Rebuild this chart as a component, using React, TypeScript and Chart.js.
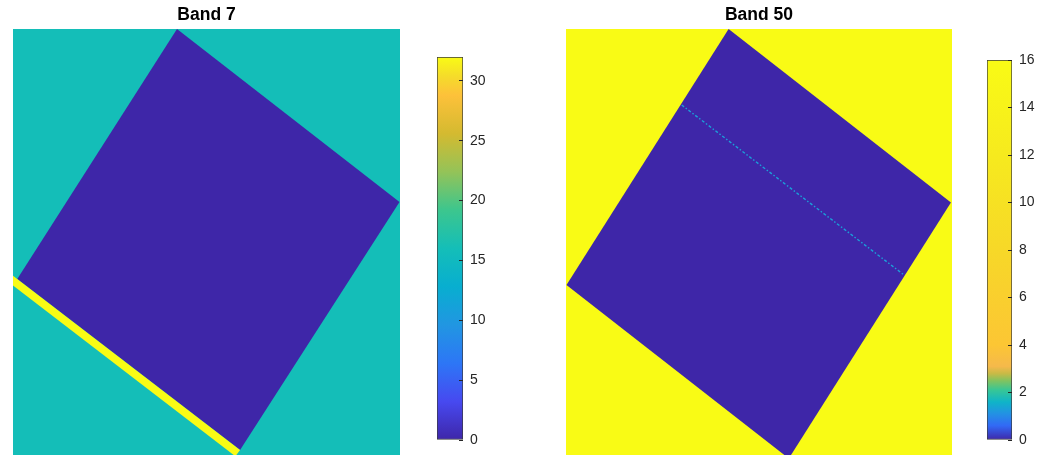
import React, { useEffect, useRef } from "react";
import { Chart, registerables } from "chart.js";

Chart.register(...registerables);

// ---------- data ----------
const TITLES = ["Band 7", "Band 50"];

// image extent (pixel units of the displayed image)
const IMAGE_X_MAX = 400;
const IMAGE_Y_MAX = 440;
const IMAGE_X = [0, 400, 400, 0];
const IMAGE_Y = [0, 0, 440, 440];

// Band 7
const BAND7_CLIM = 32;
const BAND7_BACKGROUND_VALUE = 16;
const BAND7_SQUARE_VALUE = 0;
const BAND7_STRIPE_VALUE = 32;
const BAND7_SQUARE_X = [169.5, 399.5, 234.7, 4.4];
const BAND7_SQUARE_Y = [0, 178.7, 434.9, 258.2];
const BAND7_STRIPE_X = [-3, 234.7, 229.8, -7.9];
const BAND7_STRIPE_Y = [252.5, 434.9, 441.3, 258.9];
const BAND7_TICKS = [0, 5, 10, 15, 20, 25, 30];

// Band 50
const BAND50_CLIM = 16;
const BAND50_BACKGROUND_VALUE = 16;
const BAND50_SQUARE_VALUE = 0;
const BAND50_LINE_VALUE = 1.3;
const BAND50_SQUARE_X = [168.5, 398.9, 230.9, 0.5];
const BAND50_SQUARE_Y = [0, 179.2, 443.6, 264.4];
const BAND50_LINE_X = [119.9, 350.4];
const BAND50_LINE_Y = [78.5, 254.1];
const BAND50_TICKS = [0, 2, 4, 6, 8, 10, 12, 14, 16];

// colormaps: [position, r, g, b]
const PARULA_STOPS = [
  [0.0, 62, 38, 168],
  [0.1, 71, 73, 240],
  [0.2, 45, 118, 246],
  [0.3, 33, 150, 226],
  [0.4, 8, 174, 208],
  [0.5, 20, 190, 184],
  [0.6, 60, 198, 142],
  [0.7, 148, 195, 88],
  [0.8, 212, 186, 48],
  [0.9, 253, 193, 58],
  [0.95, 245, 220, 42],
  [1.0, 249, 251, 21],
];
// band 50 colormap, positions in data units
const BAND50_STOPS = [
  [0, 62, 38, 168],
  [0.6, 50, 105, 245],
  [1.1, 35, 145, 228],
  [1.6, 15, 180, 200],
  [2.1, 55, 198, 150],
  [2.5, 130, 195, 95],
  [2.8, 200, 186, 70],
  [3.1, 245, 185, 75],
  [4, 252, 198, 52],
  [8, 247, 216, 40],
  [12, 246, 234, 30],
  [16, 249, 251, 21],
];

const FONT = '"Liberation Sans", Arial, Helvetica, sans-serif';

// ---------- helpers ----------
function colorAt(stops: number[][], v: number): string {
  const rgb = (c: number[]) => `rgb(${Math.round(c[0])},${Math.round(c[1])},${Math.round(c[2])})`;
  if (v <= stops[0][0]) return rgb(stops[0].slice(1));
  for (let i = 1; i < stops.length; i++) {
    if (v <= stops[i][0]) {
      const a = stops[i - 1];
      const b = stops[i];
      const f = (v - a[0]) / (b[0] - a[0]);
      return rgb([1, 2, 3].map((k) => a[k] + (b[k] - a[k]) * f));
    }
  }
  return rgb(stops[stops.length - 1].slice(1));
}

function scaledStops(stops: number[][], max: number): number[][] {
  return stops.map((s) => [s[0] * max, s[1], s[2], s[3]]);
}

function pts(xs: number[], ys: number[]) {
  return xs.map((x, i) => ({ x, y: ys[i] }));
}

function polygonDataset(xs: number[], ys: number[], color: string) {
  return {
    data: pts(xs, ys),
    fill: "shape",
    backgroundColor: color,
    borderColor: "transparent",
    borderWidth: 0,
    pointRadius: 0,
    tension: 0,
  };
}

function imageChart(canvas: HTMLCanvasElement, title: string, datasets: any[]) {
  return new Chart(canvas, {
    type: "line",
    data: { datasets },
    options: {
      animation: false,
      responsive: false,
      events: [],
      layout: { padding: 0 },
      plugins: {
        legend: { display: false },
        tooltip: { enabled: false },
        title: {
          display: true,
          text: title,
          color: "#000000",
          font: { family: FONT, size: 17.5, weight: "bold" },
          padding: { top: 5, bottom: 3 },
        },
      },
      scales: {
        x: { type: "linear", min: 0, max: IMAGE_X_MAX, display: false },
        y: { type: "linear", min: 0, max: IMAGE_Y_MAX, reverse: true, display: false },
      },
    } as any,
  });
}

function colorbarChart(
  canvas: HTMLCanvasElement,
  stops: number[][],
  max: number,
  ticks: number[],
  top: number,
  axisWidth: number
) {
  return new Chart(canvas, {
    type: "bar",
    data: {
      labels: ["c"],
      datasets: [
        {
          data: [[0, max]],
          barPercentage: 1,
          categoryPercentage: 1,
          borderWidth: 1,
          borderColor: "#3a3a3a",
          borderSkipped: false,
          backgroundColor: (ctx: any) => {
            const chart = ctx.chart;
            const y = chart.scales.y;
            if (!chart.chartArea || !y) return "#888";
            const y0 = y.getPixelForValue(0);
            const y1 = y.getPixelForValue(max);
            const g = chart.ctx.createLinearGradient(0, y0, 0, y1);
            stops.forEach((s) => g.addColorStop(Math.min(1, Math.max(0, s[0] / max)), colorAt(stops, s[0])));
            return g;
          },
        },
      ],
    },
    options: {
      animation: false,
      responsive: false,
      events: [],
      layout: { padding: { top, bottom: 15, left: 0, right: 0 } },
      plugins: { legend: { display: false }, tooltip: { enabled: false }, title: { display: false } },
      scales: {
        x: { display: false },
        y: {
          position: "right",
          min: 0,
          max,
          afterBuildTicks: (scale: any) => {
            scale.ticks = ticks.map((v) => ({ value: v }));
          },
          afterFit: (scale: any) => {
            scale.width = axisWidth;
            scale.paddingTop = 0;
            scale.paddingBottom = 0;
          },
          grid: { drawOnChartArea: false, tickLength: -4, color: "#262626", lineWidth: 1, z: 1 },
          border: { display: false },
          ticks: { padding: 11, color: "#262626", font: { family: FONT, size: 14 } },
        },
      },
    } as any,
  });
}

// ---------- component ----------
export default function App() {
  const c1 = useRef<HTMLCanvasElement>(null);
  const c2 = useRef<HTMLCanvasElement>(null);
  const c3 = useRef<HTMLCanvasElement>(null);
  const c4 = useRef<HTMLCanvasElement>(null);

  useEffect(() => {
    const band7Stops = scaledStops(PARULA_STOPS, BAND7_CLIM);
    const charts: Chart[] = [];

    charts.push(
      imageChart(c1.current!, TITLES[0], [
        polygonDataset(BAND7_STRIPE_X, BAND7_STRIPE_Y, colorAt(band7Stops, BAND7_STRIPE_VALUE)),
        polygonDataset(BAND7_SQUARE_X, BAND7_SQUARE_Y, colorAt(band7Stops, BAND7_SQUARE_VALUE)),
        polygonDataset(IMAGE_X, IMAGE_Y, colorAt(band7Stops, BAND7_BACKGROUND_VALUE)),
      ])
    );
    charts.push(colorbarChart(c2.current!, band7Stops, BAND7_CLIM, BAND7_TICKS, 57, 44));

    charts.push(
      imageChart(c3.current!, TITLES[1], [
        {
          data: pts(BAND50_LINE_X, BAND50_LINE_Y),
          fill: false,
          borderColor: colorAt(BAND50_STOPS, BAND50_LINE_VALUE),
          borderWidth: 1.4,
          borderDash: [3, 2, 1.5, 2],
          pointRadius: 0,
          tension: 0,
        },
        polygonDataset(BAND50_SQUARE_X, BAND50_SQUARE_Y, colorAt(BAND50_STOPS, BAND50_SQUARE_VALUE)),
        polygonDataset(IMAGE_X, IMAGE_Y, colorAt(BAND50_STOPS, BAND50_BACKGROUND_VALUE)),
      ])
    );
    charts.push(colorbarChart(c4.current!, BAND50_STOPS, BAND50_CLIM, BAND50_TICKS, 60, 28));

    return () => charts.forEach((c) => c.destroy());
  }, []);

  const abs = (left: number, width: number): React.CSSProperties => ({
    position: "absolute",
    left,
    top: 0,
    width,
    height: 455,
    display: "block",
  });

  return (
    <div
      style={{
        position: "fixed",
        left: 0,
        top: 0,
        width: 1040,
        height: 455,
        overflow: "hidden",
        background: "#ffffff",
      }}
    >
      <canvas ref={c1} width={387} height={455} style={abs(13, 387)} />
      <canvas ref={c2} width={70} height={455} style={abs(437, 70)} />
      <canvas ref={c3} width={386} height={455} style={abs(566, 386)} />
      <canvas ref={c4} width={53} height={455} style={abs(987, 53)} />
    </div>
  );
}
